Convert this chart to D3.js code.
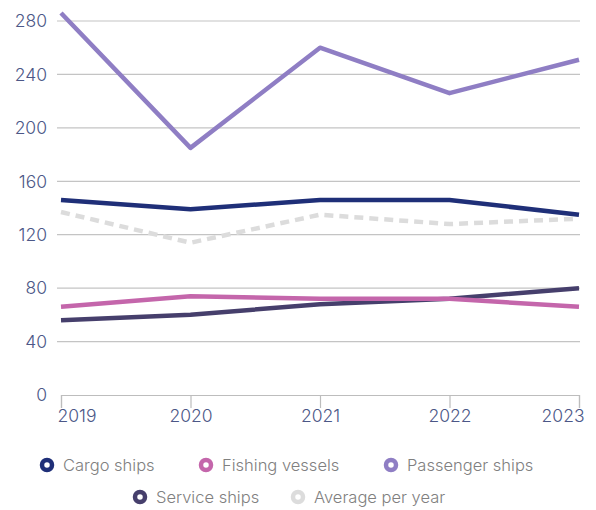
<!DOCTYPE html>
<html>
<head>
<meta charset="utf-8">
<script src="https://cdn.jsdelivr.net/npm/d3@7"></script>
<style>
  body { margin: 0; background: #fff; }
  text { font-family: Inter, "Noto Sans", sans-serif; }
</style>
</head>
<body>
<div id="chart"></div>
<script>
// data
const years = [2019, 2020, 2021, 2022, 2023];
const yTicks = [0, 40, 80, 120, 160, 200, 240, 280];
const cargo = [146, 139, 146, 146, 135];
const fishing = [66, 74, 72, 72, 66];
const passenger = [286, 185, 260, 226, 251];
const service = [56, 60, 68, 72, 80];
const average = [137, 114, 135, 128, 132];

const seriesNames = ["Cargo ships", "Fishing vessels", "Passenger ships", "Service ships", "Average per year"];
const seriesValues = [cargo, fishing, passenger, service, average];
const colors = ["#1f2f78", "#c466ab", "#8f7ec4", "#463f6c", "#dcdcdc"];

const width = 596, height = 510;

const svg = d3.select("#chart")
    .append("svg")
    .attr("width", width)
    .attr("height", height);

// scales
const x = d3.scalePoint().domain(years).range([61, 579]);
const y = d3.scaleLinear().domain([0, 280]).range([395, 21]);

// gridlines
svg.append("g")
    .selectAll("line")
    .data(yTicks.filter(d => d > 0))
    .enter()
    .append("line")
    .attr("x1", 57)
    .attr("x2", 580)
    .attr("y1", d => y(d))
    .attr("y2", d => y(d))
    .style("stroke", "#c4c4c4")
    .style("stroke-width", 1.2);

// y labels
svg.append("g")
    .selectAll("text")
    .data(yTicks)
    .enter()
    .append("text")
    .attr("x", 47)
    .attr("y", d => y(d))
    .attr("dy", "0.36em")
    .attr("text-anchor", "end")
    .attr("font-size", 17.5)
    .attr("font-weight", 300)
    .style("fill", "#4c5787")
    .text(d => d);

// x axis
const xAxis = svg.append("g")
    .attr("transform", "translate(0," + y(0) + ")")
    .call(d3.axisBottom(x).tickSize(13).tickFormat(d3.format("d")));
xAxis.select(".domain").attr("stroke", "#bdbdbd").attr("stroke-width", 1.2);
xAxis.selectAll(".tick line").attr("stroke", "#bdbdbd").attr("stroke-width", 1.2);
xAxis.selectAll(".tick text")
    .attr("y", 15)
    .attr("font-size", 17.5)
    .attr("font-weight", 300)
    .attr("font-family", "Inter, 'Noto Sans', sans-serif")
    .style("fill", "#4c5787")
    .attr("text-anchor", (d, i) => i === 0 ? "start" : (i === years.length - 1 ? "end" : "middle"))
    .attr("dx", (d, i) => i === 0 ? -4 : (i === years.length - 1 ? 5 : 0));

// lines
const line = d3.line()
    .x((d, i) => x(years[i]))
    .y(d => y(d));

// draw average first (behind), then the rest
const drawOrder = [4, 3, 1, 0, 2];
svg.append("g")
    .selectAll("path")
    .data(drawOrder)
    .enter()
    .append("path")
    .attr("d", i => line(seriesValues[i]))
    .attr("fill", "none")
    .attr("stroke", i => colors[i])
    .attr("stroke-width", 4.5)
    .attr("stroke-linejoin", "round")
    .attr("stroke-dasharray", i => i === 4 ? "9,6" : null);

// legend
const legendPos = [
    { x: 47, y: 465 }, { x: 206, y: 465 }, { x: 391, y: 465 },
    { x: 140, y: 497 }, { x: 298, y: 497 }
];
const legend = svg.append("g")
    .selectAll("g")
    .data(seriesNames)
    .enter()
    .append("g")
    .attr("transform", (d, i) => "translate(" + legendPos[i].x + "," + legendPos[i].y + ")");

legend.append("circle")
    .attr("r", 5)
    .attr("fill", "#fff")
    .attr("stroke", (d, i) => colors[i])
    .attr("stroke-width", 4.5);

legend.append("text")
    .attr("x", 16)
    .attr("dy", "0.35em")
    .attr("font-size", 16.5)
    .attr("font-weight", 300)
    .style("fill", "#808080")
    .text(d => d);
</script>
</body>
</html>
